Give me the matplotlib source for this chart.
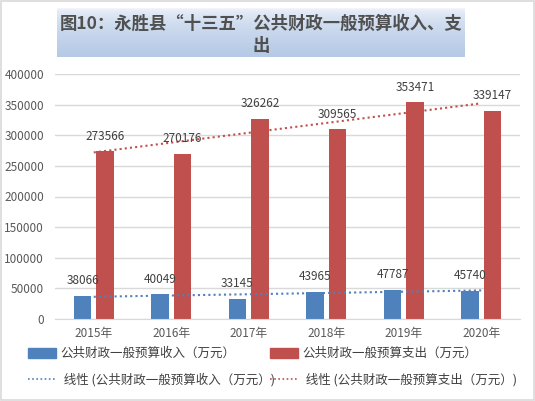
import numpy as np
import matplotlib

matplotlib.use("Agg")
import matplotlib.pyplot as plt
from matplotlib.patches import Rectangle, Patch
from matplotlib.lines import Line2D

plt.rcParams["font.family"] = ["Noto Sans CJK SC", "DejaVu Sans"]

years = ["2015年", "2016年", "2017年", "2018年", "2019年", "2020年"]
income = [38066, 40049, 33145, 43965, 47787, 45740]
expense = [273566, 270176, 326262, 309565, 353471, 339147]
income_name = "公共财政一般预算收入（万元）"
expense_name = "公共财政一般预算支出（万元）"

blue = "#4f81bd"
red = "#c0504d"
grid = "#d9d9d9"
txt = "#404040"

W, H = 535, 401
fig = plt.figure(figsize=(W / 100, H / 100), dpi=100)

# outer border
fig.patches.append(Rectangle((0.002, 0.002), 0.996, 0.995, transform=fig.transFigure,
                             fill=False, edgecolor=grid, linewidth=1.2))

# title box with gradient
tax = fig.add_axes([57 / W, 1 - 57 / H, 408 / W, 49 / H])
grad = np.sqrt(np.linspace(0, 1, 100)).reshape(-1, 1)
top = np.array([0.96, 0.97, 0.99])
bot = np.array([0.71, 0.79, 0.90])
img = top + (bot - top) * grad[..., None]
tax.imshow(img, aspect="auto", extent=[0, 1, 0, 1])
tax.set_axis_off()
tax.text(0.5, 0.45, "图10：永胜县“十三五”公共财政一般预算收入、支\n出", ha="center", va="center",
         fontsize=12.5, fontweight="bold", color="#505050", linespacing=1.25,
         transform=tax.transAxes)

ax = fig.add_axes([55 / W, 1 - 319 / H, 465 / W, 245 / H])
x = np.arange(len(years))
bw = 0.22
off = 0.145
ax.bar(x - off, income, bw, color=blue)
ax.bar(x + off, expense, bw, color=red)
for xi, v in zip(x - off, income):
    ax.annotate(str(v), (xi, v), xytext=(0, 11), textcoords="offset points",
                ha="center", va="center", fontsize=8.5, color=txt)
for xi, v in zip(x + off, expense):
    ax.annotate(str(v), (xi, v), xytext=(0, 11), textcoords="offset points",
                ha="center", va="center", fontsize=8.5, color=txt)

# linear trendlines
dots = (0, (1, 1.5))
k1, c1 = np.polyfit(x, income, 1)
k2, c2 = np.polyfit(x, expense, 1)
ax.plot(x, k1 * x + c1, linestyle=dots, color=blue, linewidth=1.5)
ax.plot(x, k2 * x + c2, linestyle=dots, color=red, linewidth=1.5)

ax.set_xlim(-0.5, len(years) - 0.5)
ax.set_ylim(0, 400000)
ax.set_yticks(np.arange(0, 400001, 50000))
ax.set_xticks(x)
ax.set_xticklabels(years)
ax.tick_params(axis="both", length=0, labelsize=8.5, labelcolor="#595959")
ax.tick_params(axis="y", pad=8)
ax.tick_params(axis="x", pad=6)
ax.yaxis.grid(True, color=grid, linewidth=1)
ax.set_axisbelow(True)
for s in ["left", "right", "top"]:
    ax.spines[s].set_visible(False)
ax.spines["bottom"].set_color(grid)

h1 = [Patch(color=blue), Line2D([], [], color=blue, linestyle=dots, linewidth=1.2)]
h2 = [Patch(color=red), Line2D([], [], color=red, linestyle=dots, linewidth=1.2)]
l1 = [income_name, " 线性 (" + income_name + ")"]
l2 = [expense_name, " 线性 (" + expense_name + ")"]
for hs, ls, xl in [(h1, l1, 17 / W), (h2, l2, 259 / W)]:
    fig.legend(hs, ls, loc="upper left", bbox_to_anchor=(xl, 1 - 336 / H),
               frameon=False, fontsize=9, handlelength=2.2, handleheight=0.8,
               handletextpad=0.4, labelspacing=1.05, labelcolor=txt)

fig.savefig("out.png", dpi=100)
